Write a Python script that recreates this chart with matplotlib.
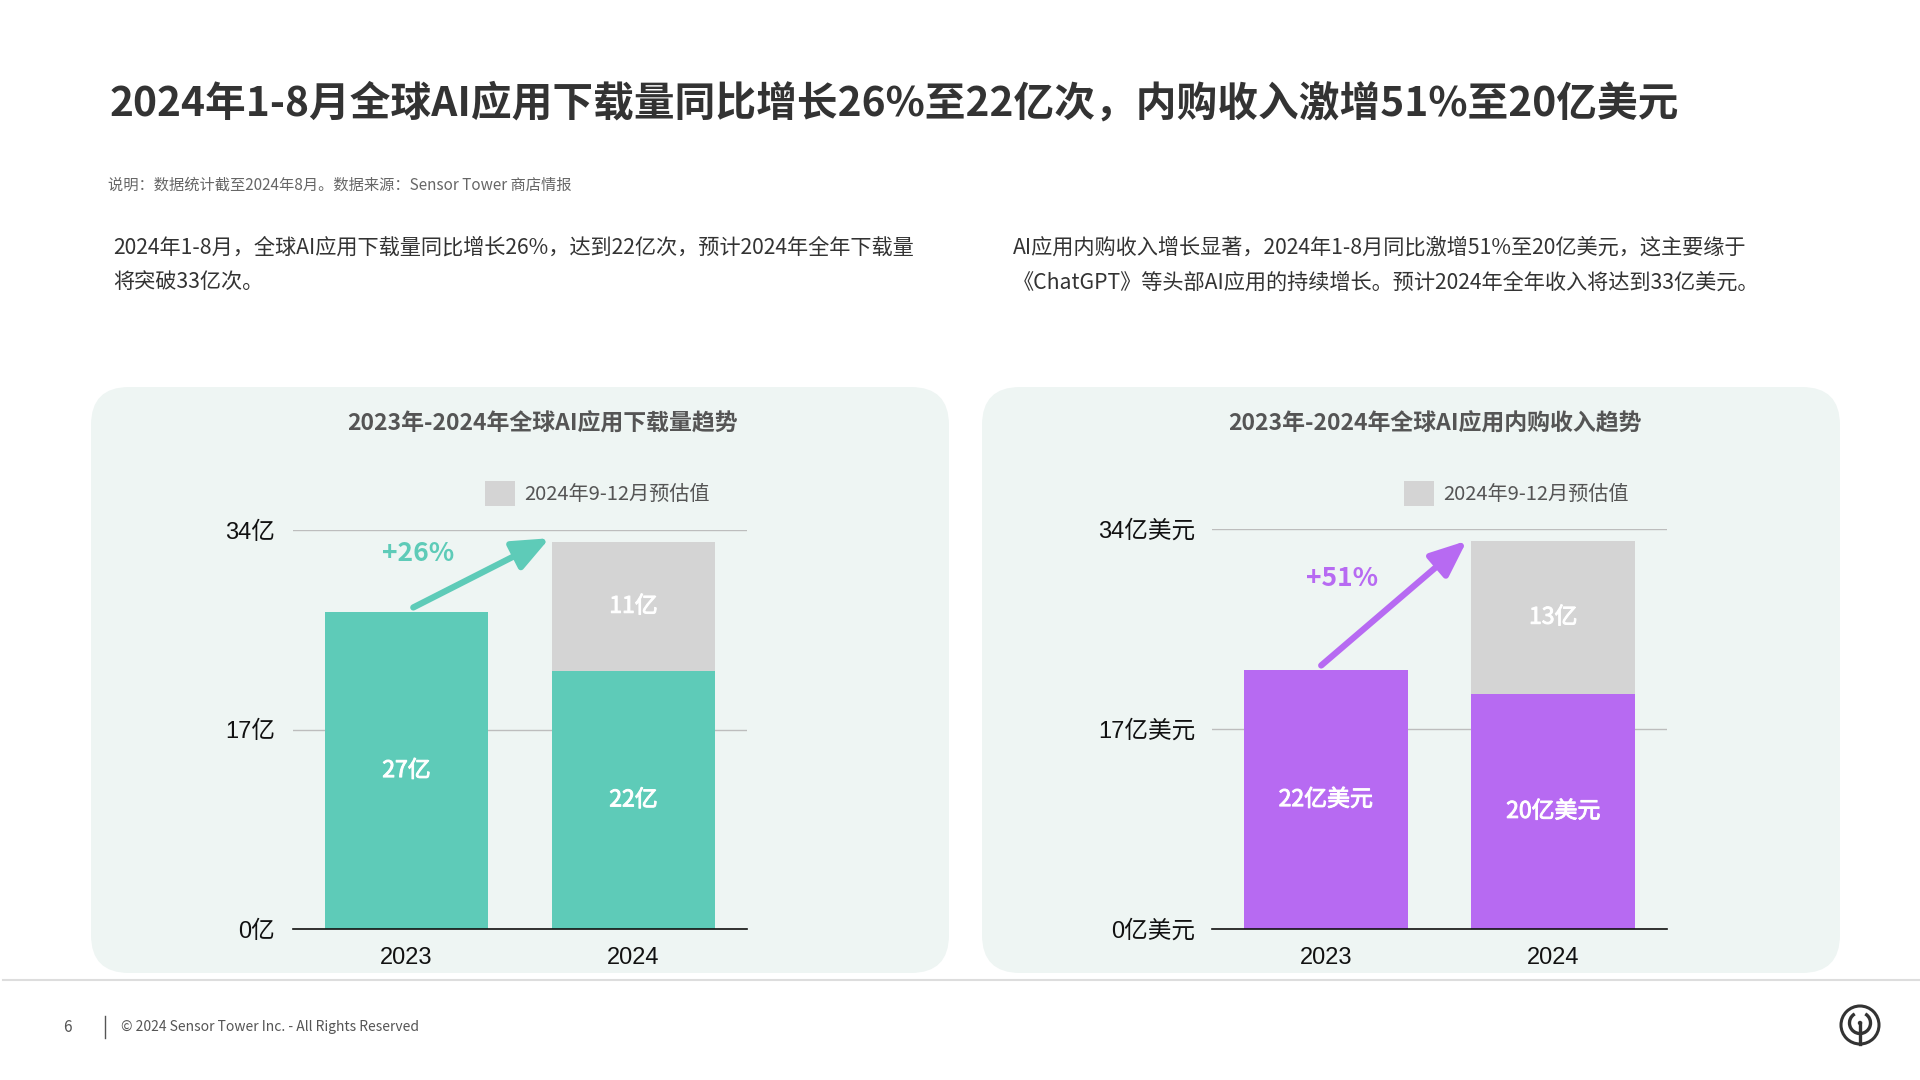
import matplotlib
matplotlib.use("Agg")
import matplotlib.pyplot as plt
import matplotlib.patheffects as pe
from matplotlib.patches import FancyBboxPatch, Circle, Arc
from matplotlib.lines import Line2D

plt.rcParams['font.family'] = ['Noto Sans CJK SC', 'DejaVu Sans']

# ---------------- data ----------------
years = ["2023", "2024"]
dl_actual = [27, 22]          # 亿次
dl_forecast = [0, 11]         # 2024年9-12月预估值
rev_actual = [22, 20]         # 亿美元
rev_forecast = [0, 13]
dl_ticks = [0, 17, 34]
rev_ticks = [0, 17, 34]
dl_growth = "+26%"
rev_growth = "+51%"
dl_labels = ["27亿", "22亿"]
dl_fc_label = "11亿"
rev_labels = ["22亿美元", "20亿美元"]
rev_fc_label = "13亿"

title = "2024年1-8月全球AI应用下载量同比增长26%至22亿次，内购收入激增51%至20亿美元"
note = "说明：数据统计截至2024年8月。数据来源：Sensor Tower 商店情报"
para_left = "2024年1-8月，全球AI应用下载量同比增长26%，达到22亿次，预计2024年全年下载量\n将突破33亿次。"
para_right = "AI应用内购收入增长显著，2024年1-8月同比激增51%至20亿美元，这主要缘于\n《ChatGPT》等头部AI应用的持续增长。预计2024年全年收入将达到33亿美元。"
chart_title_l = "2023年-2024年全球AI应用下载量趋势"
chart_title_r = "2023年-2024年全球AI应用内购收入趋势"
legend_label = "2024年9-12月预估值"
footer = "© 2024 Sensor Tower Inc. - All Rights Reserved"
page_no = "6"

TEAL = "#5ECBB8"
PURPLE = "#B76AF2"
GRAY = "#D4D4D4"
PANEL = "#EEF5F3"
TICK_FONT = ['Liberation Sans', 'Noto Sans CJK SC']
THICK = [pe.withStroke(linewidth=0.7, foreground="white")]

W, H = 1920, 1080
fig = plt.figure(figsize=(W / 100, H / 100), dpi=100)
fig.patch.set_facecolor("white")

# background axes in pixel coordinates
bg = fig.add_axes([0, 0, 1, 1])
bg.set_xlim(0, W)
bg.set_ylim(H, 0)
bg.axis("off")
bg.set_zorder(0)

bg.text(110, 104, title, fontsize=29.3, fontweight="bold", color="#333333",
        ha="left", va="center")
bg.text(108, 185, note, fontsize=11, color="#666666", ha="left", va="center")
bg.text(113, 265, para_left, fontsize=15.25, color="#333333", ha="left", va="center",
        linespacing=1.75)
bg.text(1013, 265, para_right, fontsize=15.25, color="#333333", ha="left", va="center",
        linespacing=1.75)

for x0 in (91, 982):
    bg.add_patch(FancyBboxPatch((x0, 387), 858, 586,
                                boxstyle="round,pad=0,rounding_size=38",
                                facecolor=PANEL, edgecolor="none"))

bg.text(542, 424, chart_title_l, fontsize=16.5, fontweight="bold", color="#555555",
        ha="center", va="center")
bg.text(1435, 424, chart_title_r, fontsize=16.5, fontweight="bold", color="#555555",
        ha="center", va="center")

# footer
bg.add_line(Line2D([3, W], [980, 980], color="#DDDDDD", lw=1.5))
bg.text(67, 1027, page_no, fontsize=11, color="#555555", ha="center", va="center")
bg.add_line(Line2D([105, 105], [1016, 1038], color="#555555", lw=1))
bg.text(121, 1027, footer, fontsize=10, color="#555555", ha="left", va="center")
# logo
bg.add_patch(Circle((1860, 1025), 19, facecolor="none", edgecolor="#333333", lw=2.2))
bg.add_patch(Arc((1860, 1023), 21, 21, theta1=-60, theta2=240,
                 edgecolor="#333333", lw=2.4))
bg.add_patch(Circle((1860, 1023), 2.2, facecolor="#333333", edgecolor="none"))
bg.add_line(Line2D([1860, 1860], [1023, 1044], color="#333333", lw=2.4))


def make_chart(rect, actual, forecast, ticks, unit, color, labels, fc_label,
               growth, arrow_start, arrow_end, growth_pos, tick_pad, leg_x):
    ax = fig.add_axes(rect)
    ax.set_zorder(2)
    ax.patch.set_alpha(0)
    x = list(range(len(years)))
    ax.bar(x, actual, width=0.72, color=color, zorder=3)
    fc = ax.bar(x, forecast, width=0.72, bottom=actual, color=GRAY, zorder=3,
                label=legend_label)
    ax.set_xlim(-0.5, 1.5)
    ax.set_ylim(0, ticks[-1])
    ax.set_yticks(ticks)
    ax.set_yticklabels([f"{t}{unit}" for t in ticks], family=TICK_FONT)
    ax.set_xticks(x)
    ax.set_xticklabels(years, family=TICK_FONT)
    ax.tick_params(axis="y", length=0, pad=tick_pad, labelsize=17, labelcolor="#111111")
    ax.tick_params(axis="x", length=0, pad=13, labelsize=17, labelcolor="#111111")
    for s in ("top", "right", "left"):
        ax.spines[s].set_visible(False)
    ax.spines["bottom"].set_color("#111111")
    ax.spines["bottom"].set_linewidth(1.2)
    ax.spines["bottom"].set_zorder(4)
    ax.yaxis.grid(True, color="#BDBDBD", lw=1.0, zorder=0)
    ax.set_axisbelow(True)
    for i in x:
        ax.text(i, actual[i] / 2, labels[i], ha="center", va="center", color="white",
                fontsize=16.5, fontweight="medium", zorder=5, path_effects=THICK)
        if forecast[i] > 0:
            ax.text(i, actual[i] + forecast[i] / 2, fc_label, ha="center", va="center",
                    color="white", fontsize=16.5, fontweight="medium", zorder=5,
                    path_effects=THICK)
    ax.annotate("", xy=arrow_end, xytext=arrow_start,
                arrowprops=dict(arrowstyle="-|>,head_length=1.0,head_width=0.42",
                                color=color, lw=4.5, mutation_scale=22,
                                shrinkA=0, shrinkB=0), zorder=6, annotation_clip=False)
    ax.text(growth_pos[0], growth_pos[1], growth, color=color, fontsize=19,
            fontweight="bold", ha="center", va="center", zorder=6)
    ax.legend(handles=[fc], loc="center left", frameon=False,
              bbox_to_anchor=(leg_x / W, 1 - 493.5 / H),
              bbox_transform=fig.transFigure, fontsize=14.5,
              handlelength=1.5, handleheight=1.5, handletextpad=0.45,
              borderpad=0, borderaxespad=0, labelcolor="#555555")
    return ax


axL = make_chart([293 / W, 1 - 929 / H, 454 / W, 399 / H],
                 dl_actual, dl_forecast, dl_ticks, "亿", TEAL,
                 dl_labels, dl_fc_label, dl_growth,
                 (0.03, dl_actual[0] + 0.4), (0.63, 33.3), (0.05, 32.0), 13, 485)

axR = make_chart([1212 / W, 1 - 929 / H, 455 / W, 400 / H],
                 rev_actual, rev_forecast, rev_ticks, "亿美元", PURPLE,
                 rev_labels, rev_fc_label, rev_growth,
                 (-0.02, rev_actual[0] + 0.4), (0.62, 33.0), (0.07, 29.75), 12, 1404)

fig.savefig("out.png", dpi=100, facecolor="white")
